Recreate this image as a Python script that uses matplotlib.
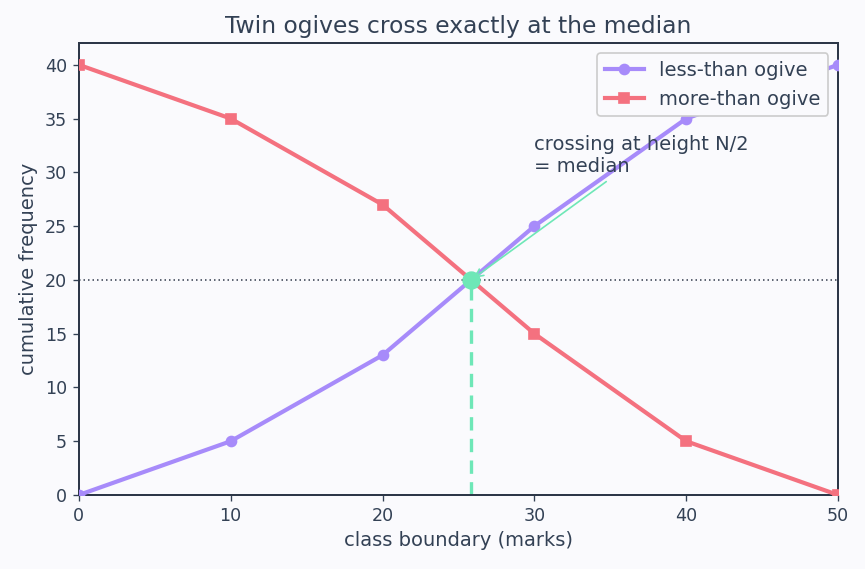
import matplotlib
matplotlib.use("Agg")
import matplotlib.pyplot as plt
import numpy as np

boundaries = [0, 10, 20, 30, 40, 50]
less_than = [0, 5, 13, 25, 35, 40]
more_than = [40, 35, 27, 15, 5, 0]
N = 40

# crossing point computed from data
half = N / 2
x_med = boundaries[2] + (half - less_than[2]) / (less_than[3] - less_than[2]) * (boundaries[3] - boundaries[2])

text_col = "#334155"
spine_col = "#2d3748"
purple = "#a78bfa"
red = "#f4717f"
green = "#6ee7b7"
bg = "#fafafd"

fig, ax = plt.subplots(figsize=(865 / 120, 569 / 120), dpi=120)
fig.patch.set_facecolor(bg)
ax.set_facecolor(bg)

ax.plot(boundaries, less_than, color=purple, lw=2.5, marker="o", ms=6, label="less-than ogive", zorder=3)
ax.plot(boundaries, more_than, color=red, lw=2.5, marker="s", ms=6, label="more-than ogive", zorder=3)
ax.axhline(half, color=spine_col, lw=0.9, ls=(0, (1, 2)), zorder=2)
ax.plot([x_med, x_med], [0, half], color=green, lw=2, ls=(0, (4, 2.5)), zorder=2)
ax.plot([x_med], [half], marker="o", ms=10, color=green, zorder=5)
ax.annotate("crossing at height N/2\n= median", xy=(x_med, half), xytext=(30, 30),
            fontsize=11.7, color=text_col,
            arrowprops=dict(arrowstyle="->", color=green, lw=1.0), zorder=6)

ax.set_xlim(0, 50)
ax.set_ylim(0, 42)
ax.set_xticks(boundaries)
ax.set_yticks(np.arange(0, 41, 5))
ax.set_title("Twin ogives cross exactly at the median", fontsize=14, color=text_col)
ax.set_xlabel("class boundary (marks)", fontsize=11.7, color=text_col)
ax.set_ylabel("cumulative frequency", fontsize=11.7, color=text_col)
ax.tick_params(colors=text_col, labelsize=10.5)
for s in ax.spines.values():
    s.set_color(spine_col)
    s.set_linewidth(1.2)
leg = ax.legend(loc="upper right", fontsize=11.7, facecolor=bg, edgecolor="#cccccc", labelcolor=text_col)
leg.get_frame().set_alpha(1)

fig.subplots_adjust(left=0.091, right=0.969, top=0.924, bottom=0.13)
fig.savefig("out.png", dpi=120, facecolor=bg)
